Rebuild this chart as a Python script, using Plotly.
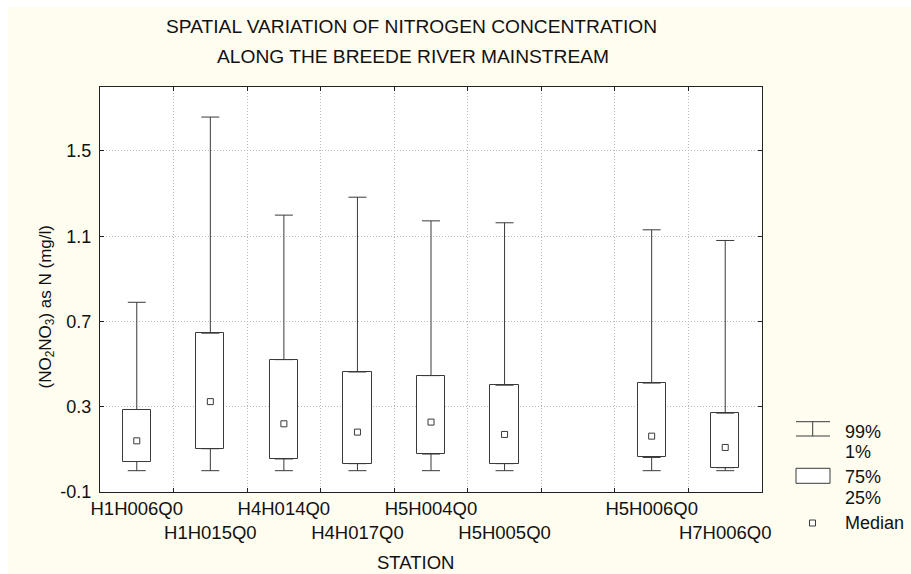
import plotly.graph_objects as go

# ---- data ----
stations = ["H1H006Q0", "H1H015Q0", "H4H014Q0", "H4H017Q0",
            "H5H004Q0", "H5H005Q0", "H5H006Q0", "H7H006Q0"]
category_order = ["H1H006Q0", "H1H015Q0", "H4H014Q0", "H4H017Q0",
                  "H5H004Q0", "H5H005Q0", " ", "H5H006Q0", "H7H006Q0"]
p01 = [0.0, 0.0, 0.0, 0.0, 0.0, 0.0, 0.0, 0.0]
q25 = [0.043, 0.103, 0.055, 0.033, 0.078, 0.033, 0.062, 0.014]
median = [0.14, 0.324, 0.22, 0.181, 0.228, 0.17, 0.162, 0.109]
q75 = [0.287, 0.645, 0.521, 0.463, 0.446, 0.401, 0.411, 0.27]
p99 = [0.79, 1.659, 1.199, 1.283, 1.172, 1.163, 1.13, 1.08]
y_ticks = [-0.1, 0.3, 0.7, 1.1, 1.5]
y_ticktext = ["-0.1", "0.3", "0.7", "1.1", "1.5"]

FONT = "Arial, Liberation Sans, sans-serif"
LC = "#3a3a3a"
CREAM = "#FFFDF0"
TXT = "#111"

W, H = 911, 574
L, R, T, B = 100, 762, 87, 492


def px(X):
    return (X - L) / (R - L)


def py(Y):
    return (B - Y) / (B - T)


fig = go.Figure()

# boxes (25%-75%)
fig.add_trace(go.Bar(
    x=stations, y=[b - a for a, b in zip(q25, q75)], base=q25,
    width=0.385, marker=dict(color="white", line=dict(color=LC, width=1)),
    showlegend=False, hoverinfo="skip"))

# upper whisker (75% -> 99%)
fig.add_trace(go.Scatter(
    x=stations, y=q75, mode="markers",
    marker=dict(size=1, color="rgba(0,0,0,0)"),
    error_y=dict(type="data", symmetric=False,
                 array=[b - a for a, b in zip(q75, p99)],
                 arrayminus=[0] * len(q75),
                 color=LC, thickness=1, width=9),
    showlegend=False, hoverinfo="skip"))

# lower whisker (1% -> 25%)
fig.add_trace(go.Scatter(
    x=stations, y=q25, mode="markers",
    marker=dict(size=1, color="rgba(0,0,0,0)"),
    error_y=dict(type="data", symmetric=False,
                 array=[0] * len(q25),
                 arrayminus=[a - b for a, b in zip(q25, p01)],
                 color=LC, thickness=1, width=9),
    showlegend=False, hoverinfo="skip"))

# median markers
fig.add_trace(go.Scatter(
    x=stations, y=median, mode="markers",
    marker=dict(symbol="square-open", size=6, color=LC, line=dict(width=1)),
    showlegend=False, hoverinfo="skip"))

# staggered tick labels: every second station goes on a second row
tick_text = []
k = 0
for c in category_order:
    if c.strip():
        tick_text.append(("<br>" + c) if k % 2 == 1 else c)
        k += 1
    else:
        tick_text.append("")

GRID = dict(showgrid=True, gridcolor="#b8b8b8", griddash="1px,2px", gridwidth=1)

fig.update_xaxes(
    type="category", categoryorder="array", categoryarray=category_order,
    range=[-0.5, len(category_order) - 0.5],
    tickmode="array", tickvals=category_order, ticktext=tick_text,
    tickangle=0,
    tickson="boundaries", ticks="inside", ticklen=4, tickcolor="#222",
    showline=True, linecolor="#222", linewidth=1, mirror="ticks",
    tickfont=dict(family=FONT, size=18.5, color=TXT),
    zeroline=False, **GRID)

fig.update_yaxes(
    range=[-0.1, 1.8], tickmode="array", tickvals=y_ticks, ticktext=y_ticktext,
    ticks="inside", ticklen=4, tickcolor="#222",
    showline=True, linecolor="#222", linewidth=1, mirror="ticks",
    tickfont=dict(family=FONT, size=18, color=TXT),
    ticklabelstandoff=4,
    zeroline=False, **GRID)

annotations = [
    dict(text="SPATIAL VARIATION OF NITROGEN CONCENTRATION",
         x=px(411), y=py(26.7), size=19.2),
    dict(text="ALONG THE BREEDE RIVER MAINSTREAM",
         x=px(413), y=py(56.7), size=19.2),
    dict(text="STATION", x=px(415), y=py(562), size=18.5),
    dict(text="(NO<sub>2</sub>NO<sub>3</sub>) as N (mg/l)",
         x=px(33), y=py(307.5), textangle=-90, size=17),
    dict(text="99%", x=px(843), y=py(431.7), xanchor="left", size=18),
    dict(text="1%", x=px(843), y=py(451.7), xanchor="left", size=18),
    dict(text="75%", x=px(843), y=py(477.3), xanchor="left", size=18),
    dict(text="25%", x=px(843), y=py(498.3), xanchor="left", size=18),
    dict(text="Median", x=px(843), y=py(523), xanchor="left", size=18),
]
for a in annotations:
    s = a.pop("size")
    a.update(xref="paper", yref="paper", yanchor="middle", showarrow=False,
             font=dict(family=FONT, size=s, color=TXT))

shapes = [
    # white strips at the top and left of the cream background
    dict(type="rect", xref="paper", yref="paper", x0=px(0), x1=px(W),
         y0=py(7), y1=py(0), fillcolor="white", line=dict(width=0), layer="below"),
    dict(type="rect", xref="paper", yref="paper", x0=px(0), x1=px(8),
         y0=py(H), y1=py(0), fillcolor="white", line=dict(width=0), layer="below"),
    # legend: whisker symbol
    dict(type="line", xref="paper", yref="paper", x0=px(796), x1=px(830),
         y0=py(421.7), y1=py(421.7), line=dict(color=LC, width=1)),
    dict(type="line", xref="paper", yref="paper", x0=px(796), x1=px(830),
         y0=py(436), y1=py(436), line=dict(color=LC, width=1)),
    dict(type="line", xref="paper", yref="paper", x0=px(812.7), x1=px(812.7),
         y0=py(421.7), y1=py(436), line=dict(color=LC, width=1)),
    # legend: box symbol
    dict(type="rect", xref="paper", yref="paper", x0=px(796), x1=px(830),
         y0=py(483.3), y1=py(468.3), fillcolor="white",
         line=dict(color=LC, width=1)),
    # legend: median symbol
    dict(type="rect", xref="paper", yref="paper", x0=px(809.5), x1=px(815.5),
         y0=py(526), y1=py(520), fillcolor="white",
         line=dict(color=LC, width=1)),
]

fig.update_layout(
    width=W, height=H,
    margin=dict(l=L, r=W - R, t=T, b=H - B, pad=0),
    paper_bgcolor=CREAM, plot_bgcolor="white",
    annotations=annotations, shapes=shapes,
    bargap=0, showlegend=False,
    font=dict(family=FONT, size=18, color=TXT),
)

fig.write_html("out.html")
